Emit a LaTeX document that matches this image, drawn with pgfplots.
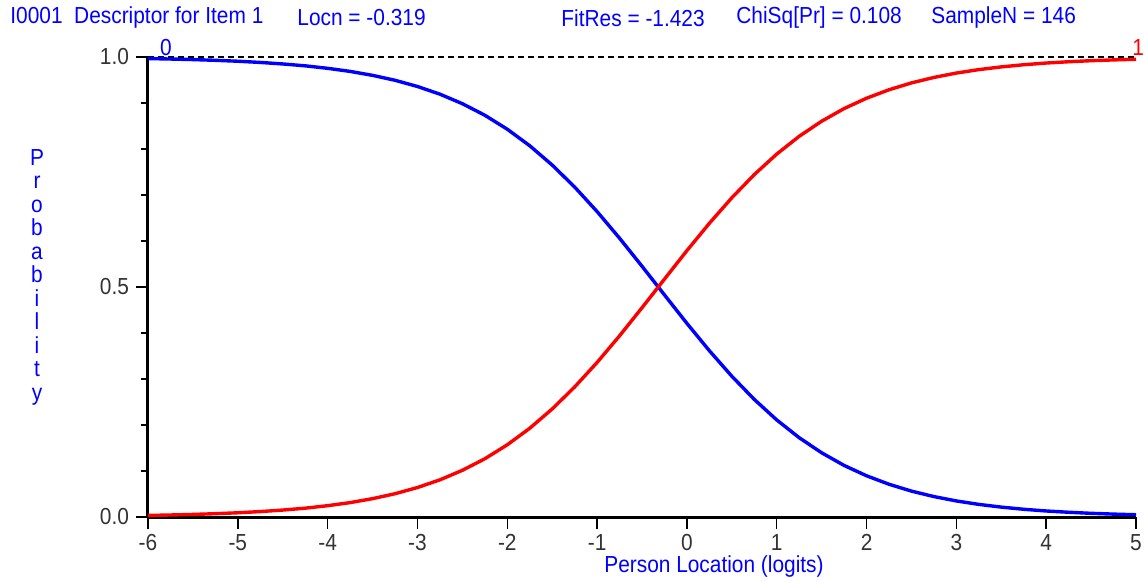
\documentclass[border=0pt]{standalone}
\usepackage{fontspec}
\setmainfont{Liberation Sans}[FakeStretch=0.9]
\usepackage{pgfplots}
\usepackage{pgfplotstable}
\pgfplotsset{compat=1.18}

\definecolor{rblue}{RGB}{0,0,255}
\definecolor{rred}{RGB}{255,0,0}

% category probability curves (x = person location, p0 / p1)
\pgfplotstableread{
x      p0      p1
-6.00  0.9966  0.0034
-5.75  0.9956  0.0044
-5.50  0.9944  0.0056
-5.25  0.9928  0.0072
-5.00  0.9908  0.0092
-4.75  0.9882  0.0118
-4.50  0.9849  0.0151
-4.25  0.9808  0.0192
-4.00  0.9754  0.0246
-3.75  0.9687  0.0313
-3.50  0.9601  0.0399
-3.25  0.9494  0.0506
-3.00  0.9359  0.0641
-2.75  0.9192  0.0808
-2.50  0.8985  0.1015
-2.25  0.8734  0.1266
-2.00  0.8430  0.1570
-1.75  0.8071  0.1929
-1.50  0.7651  0.2349
-1.25  0.7173  0.2827
-1.00  0.6640  0.3360
-0.75  0.6061  0.3939
-0.50  0.5451  0.4549
-0.25  0.4828  0.5172
 0.00  0.4209  0.5791
 0.25  0.3615  0.6385
 0.50  0.3060  0.6940
 0.75  0.2556  0.7444
 1.00  0.2110  0.7890
 1.25  0.1724  0.8276
 1.50  0.1396  0.8604
 1.75  0.1121  0.8879
 2.00  0.0896  0.9104
 2.25  0.0712  0.9288
 2.50  0.0563  0.9437
 2.75  0.0444  0.9556
 3.00  0.0349  0.9651
 3.25  0.0274  0.9726
 3.50  0.0215  0.9785
 3.75  0.0168  0.9832
 4.00  0.0131  0.9869
 4.25  0.0103  0.9897
 4.50  0.0080  0.9920
 4.75  0.0063  0.9937
 5.00  0.0049  0.9951
}\icc

\begin{document}
\begin{tikzpicture}[font=\fontsize{11.6}{13}\selectfont]
\path[use as bounding box] (-74pt,-31.5pt) rectangle (498pt,258.5pt);
\begin{axis}[
    at={(0,0)}, anchor=south west,
    scale only axis,
    width=494pt, height=230pt,
    xmin=-6, xmax=5, ymin=0, ymax=1,
    axis x line=bottom, axis y line=left,
    axis line style={-, line width=1.5pt, black},
    every outer x axis line/.append style={line width=1.5pt},
    every outer y axis line/.append style={line width=1.5pt},
    xtick={-6,...,5},
    ytick={0,0.5,1},
    minor y tick num=4,
    tick align=outside,
    major tick length=6pt, minor tick length=3.5pt,
    tick style={black, line width=0.75pt},
    yticklabel style={/pgf/number format/fixed, /pgf/number format/fixed zerofill, /pgf/number format/precision=1, xshift=0pt},
    xticklabel style={yshift=1pt},
    /pgf/number format/assume math mode=true,
    ticklabel style={text=black!80},
    clip=false,
]
\addplot[black, line width=0.7pt, dash pattern=on 3pt off 2pt] coordinates {(-6,1) (5,1)};
\addplot[rblue, line width=1.7pt] table[x=x, y=p0] {\icc};
\addplot[rred, line width=1.7pt] table[x=x, y=p1] {\icc};
\node[text=rblue, anchor=south, inner sep=0.5pt] at (axis cs:-5.8,1) {0};
\node[text=rred, anchor=south west, inner sep=0.5pt, xshift=-2.5pt] at (axis cs:5,1) {1};
\end{axis}
% title line
\node[text=rblue, anchor=west, inner sep=0pt] at (-69pt,249.5pt) {I0001\enspace Descriptor for Item 1};
\node[text=rblue, anchor=west, inner sep=0pt] at (74.5pt,249.5pt) {Locn = -0.319};
\node[text=rblue, anchor=west, inner sep=0pt] at (206.5pt,249.5pt) {FitRes = -1.423};
\node[text=rblue, anchor=west, inner sep=0pt] at (294pt,249.5pt) {ChiSq[Pr] = 0.108};
\node[text=rblue, anchor=west, inner sep=0pt] at (391.5pt,249.5pt) {SampleN = 146};
% axis titles
\node[text=rblue, align=center, inner sep=0pt, font=\fontsize{11.6}{11.75}\selectfont] at (-55.5pt,120pt)
  {P\\r\\o\\b\\a\\b\\i\\l\\i\\t\\y};
\node[text=rblue, inner sep=0pt] at (283pt,-24.5pt) {Person Location (logits)};
\end{tikzpicture}
\end{document}
